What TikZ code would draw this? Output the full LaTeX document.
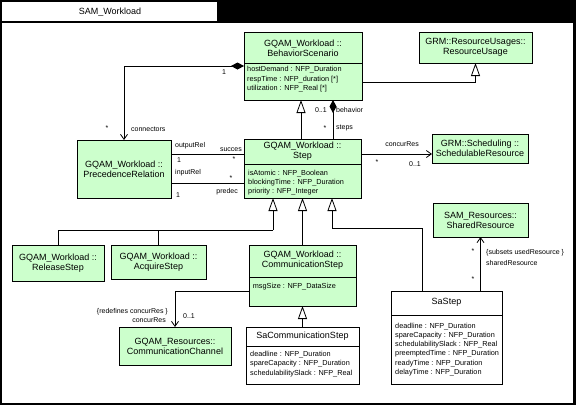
\documentclass[tikz,border=0pt]{standalone}
\usepackage{fontspec}
\setmainfont{Liberation Sans}
\usetikzlibrary{arrows.meta, positioning}

\definecolor{umlgreen}{RGB}{204,255,204}

\begin{document}
\begin{tikzpicture}[
  x=1pt, y=-1pt,
  font=\fontsize{9}{10}\selectfont,
  cls/.style    ={rectangle, draw=black, line width=0.8pt, fill=umlgreen, inner sep=0pt, outer sep=0pt, align=center},
  sacls/.style  ={cls, fill=white},
  hdr/.style    ={inner sep=0pt, align=center, font=\fontsize{9}{10}\selectfont},
  attr/.style   ={inner sep=0pt, align=left, anchor=north west, font=\fontsize{7.3}{9.5}\selectfont},
  lbl/.style    ={inner sep=0pt, font=\fontsize{7}{8}\selectfont},
  link/.style   ={draw=black, line width=0.8pt},
  gen/.style    ={link, -{Triangle[open, length=13pt, width=9pt]}},
  nav/.style    ={link, -{Straight Barb[length=5pt, width=7pt]}},
  comp/.style   ={link, {Diamond[length=13pt, width=7pt]}-},
  compnav/.style={link, {Diamond[length=13pt, width=7pt]}-{Straight Barb[length=5pt, width=7pt]}}
]

% ---- package frame ----
\fill[black] (0,0) rectangle (576,405);
\fill[white] (2,2) rectangle (217,21);
\fill[white] (2,23) rectangle (573,403);
\node[hdr] (title) at (110,12) {SAM\_Workload};

% ---- top row ----
\node[cls, anchor=north west, minimum width=118pt, minimum height=68pt] (bs) at (244,32) {};
\node[hdr] at (303,48.5) {GQAM\_Workload ::\\BehaviorScenario};
\draw[link] (bs.west |- 0,63) -- (bs.east |- 0,63);
\node[attr] at (247,66.5) {hostDemand : NFP\_Duration\\respTime : NFP\_duration [*]\\utilization : NFP\_Real [*]};

\node[cls, minimum width=113pt, minimum height=31pt] (ru) at (475.5,47.5) {GRM::ResourceUsages::\\ResourceUsage};

% ---- middle row ----
\node[cls, minimum width=94pt, minimum height=58pt] (pr) at (124,169) {GQAM\_Workload ::\\PrecedenceRelation};

\node[cls, anchor=north west, minimum width=117pt, minimum height=59pt] (st) at (244,139) {};
\node[hdr] at (302.5,151.5) {GQAM\_Workload ::\\Step};
\draw[link] (st.west |- 0,164) -- (st.east |- 0,164);
\node[attr, font=\fontsize{7.3}{9}\selectfont] at (248,170.2) {isAtomic : NFP\_Boolean\\blockingTime : NFP\_Duration\\priority : NFP\_Integer};

\node[cls, minimum width=96pt, minimum height=29pt] (sr) at (480,148.5) {GRM::Scheduling ::\\SchedulableResource};
\node[cls, minimum width=95pt, minimum height=34pt] (shr) at (480.5,220) {SAM\_Resources::\\SharedResource};

% ---- step kinds ----
\node[cls, minimum width=92pt, minimum height=36pt] (rel) at (58,263) {GQAM\_Workload ::\\ReleaseStep};
\node[cls, minimum width=95pt, minimum height=34pt] (acq) at (158.5,262) {GQAM\_Workload ::\\AcquireStep};

\node[cls, anchor=north west, minimum width=107pt, minimum height=61pt] (cs) at (249,245) {};
\node[hdr] at (302.5,260) {GQAM\_Workload ::\\CommunicationStep};
\draw[link] (cs.west |- 0,277) -- (cs.east |- 0,277);
\node[attr] at (252.7,283.5) {msgSize : NFP\_DataSize};

\node[cls, minimum width=112pt, minimum height=38pt] (cc) at (175,346) {GQAM\_Resources::\\CommunicationChannel};

% ---- SA stereotyped classes ----
\node[sacls, anchor=north west, minimum width=113pt, minimum height=57pt] (scs) at (246,327) {};
\node[hdr] at (302.5,336) {SaCommunicationStep};
\draw[link] (scs.west |- 0,346) -- (scs.east |- 0,346);
\node[attr] at (250,350.8) {deadline : NFP\_Duration\\spareCapacity : NFP\_Duration\\schedulabilitySlack : NFP\_Real};

\node[sacls, anchor=north west, minimum width=111pt, minimum height=93pt] (sas) at (391,291) {};
\node[hdr] at (446.5,302) {SaStep};
\draw[link] (sas.west |- 0,315) -- (sas.east |- 0,315);
\node[attr, font=\fontsize{7.3}{9.1}\selectfont] at (395,323.2) {deadline : NFP\_Duration\\spareCapacity : NFP\_Duration\\schedulabilitySlack : NFP\_Real\\preemptedTime : NFP\_Duration\\readyTime : NFP\_Duration\\delayTime : NFP\_Duration};

% ---- edges ----
\draw[compnav] (bs.west |- 0,66) -| (pr.north);
\draw[gen] (bs.east |- 0,82) -| (ru.south);
\draw[gen] (st.north -| 301,0) -- (bs.south -| 301,0);
\draw[comp] (bs.south -| 333,0) -- (st.north -| 333,0);
\draw[link] (pr.east |- 0,154) -- (st.west |- 0,154);
\draw[link] (pr.east |- 0,183) -- (st.west |- 0,183);
\draw[nav] (st.east |- 0,154) -- (sr.west |- 0,154);

\coordinate (split) at (273,230);
\draw[link] (rel.north) |- (split);
\draw[link] (acq.north) -- (acq.north |- split);
\draw[gen] (split) -- (st.south -| split);
\draw[gen] (cs.north) -- (st.south -| cs.north);
\coordinate (bend) at (332,228);
\draw[gen] (sas.north -| 422,0) |- (bend) -- (st.south -| bend);
\draw[gen] (scs.north) -- (cs.south);
\draw[nav] (cs.west |- 0,291) -| (cc.north);
\draw[nav] (sas.north -| shr.south) -- (shr.south);

% ---- role names & multiplicities ----
\node[lbl] at (224,72) {1};
\node[lbl] at (107,128) {*};
\node[lbl, anchor=west] at (131,129) {connectors};
\node[lbl, anchor=east] at (327,110) {0..1};
\node[lbl, anchor=west] at (336,110) {behavior};
\node[lbl] at (325,128) {*};
\node[lbl, anchor=west] at (336,128) {steps};
\node[lbl, anchor=west] at (175,146) {outputRel};
\node[lbl] at (179,160) {1};
\node[lbl, anchor=east] at (242,150) {succes};
\node[lbl] at (234,159) {*};
\node[lbl, anchor=west] at (175,173) {inputRel};
\node[lbl] at (231,178) {*};
\node[lbl, anchor=east] at (238,192) {predec};
\node[lbl] at (178,195) {1};
\node[lbl, anchor=east] at (419,144) {concurRes};
\node[lbl] at (377,162) {*};
\node[lbl] at (415,164) {0..1};
\node[lbl, anchor=east] at (168,312) {\{redefines concurRes \}};
\node[lbl, anchor=east] at (166,320) {concurRes};
\node[lbl] at (189,316) {0..1};
\node[lbl] at (473,251) {*};
\node[lbl] at (473,279) {*};
\node[lbl, anchor=west] at (486,253) {\{subsets usedResource \}};
\node[lbl, anchor=west] at (486,263) {sharedResource};

\end{tikzpicture}
\end{document}
